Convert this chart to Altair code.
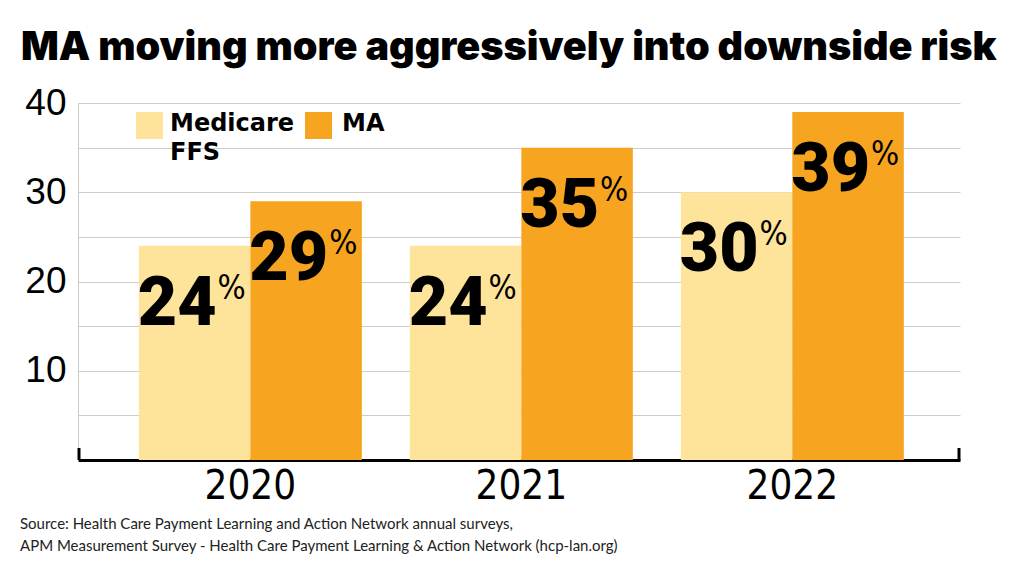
import altair as alt
import pandas as pd

years = ["2020", "2021", "2022"]
series = ["Medicare FFS", "MA"]
ffs_values = [24, 24, 30]
ma_values = [29, 35, 39]
colors = ["#FEE39A", "#F7A520"]
title_text = "MA moving more aggressively into downside risk"
legend_lines = [["Medicare", "FFS"], "MA"]
source_lines = [
    "Source: Health Care Payment Learning and Action Network annual surveys,",
    "APM Measurement Survey - Health Care Payment Learning & Action Network (hcp-lan.org)",
]

rows = []
for i, y in enumerate(years):
    rows.append({"year": y, "series": series[0], "value": ffs_values[i]})
    rows.append({"year": y, "series": series[1], "value": ma_values[i]})
df = pd.DataFrame(rows)

W, H = 882, 357

x_enc = alt.X(
    "year:N",
    sort=years,
    scale=alt.Scale(paddingInner=0.177, paddingOuter=0.216, align=0.52),
    axis=alt.Axis(
        title=None, labelAngle=0, ticks=False, domainColor="black", domainWidth=3,
        labelFont="DejaVu Sans Condensed", labelFontSize=40, labelColor="black",
        labelPadding=6, grid=False,
    ),
)
xoff_enc = alt.XOffset("series:N", sort=series, scale=alt.Scale(domain=series, paddingInner=0, paddingOuter=0))
y_enc = alt.Y(
    "value:Q",
    scale=alt.Scale(domain=[0, 40], nice=False),
    axis=alt.Axis(
        title=None, values=[0, 5, 10, 15, 20, 25, 30, 35, 40],
        labelExpr="datum.value % 10 == 0 && datum.value > 0 ? datum.label : ''",
        ticks=False, domainColor="#cccccc", domainWidth=1, gridColor="#cccccc", gridWidth=1,
        labelFont="Liberation Sans", labelFontSize=37, labelColor="black", labelPadding=12,
    ),
)

base = alt.Chart(df)

bars = base.mark_bar().encode(
    x=x_enc,
    xOffset=xoff_enc,
    y=y_enc,
    color=alt.Color("series:N", sort=series, scale=alt.Scale(domain=series, range=colors), legend=None),
)

num = base.mark_text(
    font="Roboto", fontSize=68, fontWeight=900,
    baseline="top", align="right", dx=22, dy=25, color="black",
).encode(x=x_enc, xOffset=xoff_enc, y=y_enc, text=alt.Text("value:Q"))

pct = base.mark_text(
    font="DejaVu Sans Condensed", fontSize=33,
    baseline="top", align="left", dx=23, dy=27, color="black", text="%",
).encode(x=x_enc, xOffset=xoff_enc, y=y_enc)

one = pd.DataFrame({"k": [0]})

# end ticks of the baseline
tick_l = alt.Chart(one).mark_rule(color="black", strokeWidth=3).encode(
    x=alt.value(1), y=alt.value(H - 12), y2=alt.value(H)
)
tick_r = alt.Chart(one).mark_rule(color="black", strokeWidth=3).encode(
    x=alt.value(W - 1), y=alt.value(H - 12), y2=alt.value(H)
)

# legend drawn inside the plot
leg_sym1 = alt.Chart(one).mark_square(size=729, opacity=1, color=colors[0]).encode(
    x=alt.value(71.5), y=alt.value(22.5)
)
leg_sym2 = alt.Chart(one).mark_square(size=729, opacity=1, color=colors[1]).encode(
    x=alt.value(240.5), y=alt.value(22.5)
)
leg_txt1 = alt.Chart(one).mark_text(
    align="left", baseline="top", font="DejaVu Sans", fontSize=24, fontWeight="bold",
    lineHeight=29, color="black", text=legend_lines[0],
).encode(x=alt.value(92), y=alt.value(9))
leg_txt2 = alt.Chart(one).mark_text(
    align="left", baseline="top", font="DejaVu Sans", fontSize=24, fontWeight="bold",
    color="black", text=legend_lines[1],
).encode(x=alt.value(264), y=alt.value(9))

title = alt.Chart(one).mark_text(
    align="left", baseline="alphabetic", font="Inter", fontSize=39.6, fontWeight=900,
    color="black", text=title_text,
).encode(x=alt.value(-57), y=alt.value(-43))

source = alt.Chart(one).mark_text(
    align="left", baseline="top", font="Lato", fontSize=15, lineHeight=22,
    color="#222222", text=source_lines,
).encode(x=alt.value(-58), y=alt.value(414))

chart = alt.layer(
    bars, num, pct, tick_l, tick_r, leg_sym1, leg_sym2, leg_txt1, leg_txt2, title, source
).properties(
    width=W, height=H,
    autosize=alt.AutoSizeParams(type="none"),
    padding={"left": 70, "top": 95, "right": 40, "bottom": 100},
).configure_view(stroke=None)

chart.save("out.html", embed_options={"renderer": "svg", "actions": False})
